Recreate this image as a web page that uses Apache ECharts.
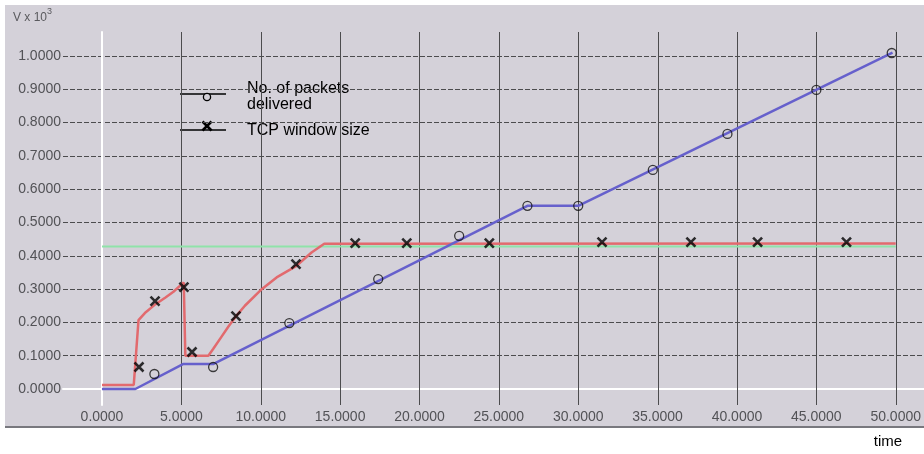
<!DOCTYPE html>
<html><head><meta charset="utf-8">
<script src="https://cdn.jsdelivr.net/npm/echarts@6/dist/echarts.min.js"></script>
<style>html,body{margin:0;padding:0;background:#fff}#c{width:924px;height:454px}</style>
</head><body><div id="c"></div>
<script>
// ---- data ----
const xMin = 0, xMax = 50, xStep = 5;
const yMin = 0, yMax = 1, yStep = 0.1;
const packetsLine = [[0, 0], [2.1, 0], [5.1, 0.075], [7.0, 0.075], [26.8, 0.55], [30.0, 0.55], [49.8, 1.01]];
const windowLine = [[0, 0.012], [2.0, 0.012], [2.3, 0.207], [2.7, 0.228], [3.3, 0.252], [4.0, 0.275], [4.5, 0.292], [5.15, 0.32],
  [5.25, 0.1], [6.7, 0.1], [7.0, 0.12], [7.5, 0.155], [8.0, 0.19], [8.5, 0.222], [9.0, 0.25], [10.0, 0.297], [11.0, 0.335],
  [12.2, 0.368], [13.2, 0.41], [14.0, 0.436], [50, 0.437]];
const thresholdLine = [[0, 0.428], [50, 0.428]];
const packetsMarks = [[3.3, 0.045], [7.0, 0.066], [11.8, 0.198], [17.4, 0.33], [22.5, 0.46], [26.8, 0.55], [30.0, 0.55],
  [34.7, 0.658], [39.4, 0.766], [45.0, 0.898], [49.75, 1.009]];
const windowMarks = [[2.33, 0.066], [3.34, 0.264], [5.16, 0.306], [5.67, 0.111], [8.44, 0.219], [12.22, 0.375], [15.95, 0.438],
  [19.2, 0.438], [24.4, 0.438], [31.5, 0.441], [37.1, 0.441], [41.3, 0.441], [46.9, 0.441]];
const legendNames = ['No. of packets', 'delivered', 'TCP window size'];
const axisTitles = ['V x 10', '3', 'time'];

// ---- styles ----
const BG = '#d4d1d9';
const DARK = '#4c4c4e';
const LBL = '#525256';
const FONT = '"Liberation Sans", Arial, sans-serif';
const XPATH = 'path://M0,0L10,10M10,0L0,10';
const off = {show: false};

const chart = echarts.init(document.getElementById('c'), null, {renderer: 'canvas'});

const option = {
  backgroundColor: '#ffffff',
  animation: false,
  grid: [
    {left: 102, top: 56, width: 794, height: 333},   // data
    {left: 102, top: 32, width: 794, height: 373},   // vertical grid lines
    {left: 63, top: 56, width: 861, height: 333}     // horizontal grid lines
  ],
  xAxis: [
    {type: 'value', gridIndex: 0, min: xMin, max: xMax, interval: xStep, axisLine: off, axisTick: off, splitLine: off,
      axisLabel: {show: true, margin: 21, color: LBL, fontSize: 14, fontFamily: FONT, formatter: v => v.toFixed(4)}},
    {type: 'value', gridIndex: 1, min: xMin, max: xMax, interval: xStep, axisLine: off, axisTick: off, axisLabel: off, z: 1,
      splitLine: {show: true, showMinLine: false, lineStyle: {color: DARK, width: 1, type: 'solid'}}},
    {type: 'value', gridIndex: 2, min: 0, max: 1, axisTick: off, axisLabel: off, splitLine: off, z: 0,
      axisLine: {show: true, onZero: false, lineStyle: {color: '#ffffff', width: 2}}}
  ],
  yAxis: [
    {type: 'value', gridIndex: 0, min: yMin, max: yMax, interval: yStep, axisLine: off, axisTick: off, splitLine: off,
      axisLabel: {show: true, margin: 41, color: LBL, fontSize: 14, fontFamily: FONT, formatter: v => v.toFixed(4)}},
    {type: 'value', gridIndex: 1, min: 0, max: 1, axisTick: off, axisLabel: off, splitLine: off, z: 2,
      axisLine: {show: true, onZero: false, lineStyle: {color: '#ffffff', width: 2}}},
    {type: 'value', gridIndex: 2, min: yMin, max: yMax, interval: yStep, axisLine: off, axisTick: off, axisLabel: off, z: 0,
      splitLine: {show: true, showMinLine: false, lineStyle: {color: DARK, width: 1, type: [5, 2]}}}
  ],
  series: [
    {type: 'line', data: thresholdLine, showSymbol: false, symbol: 'none', clip: false,
      lineStyle: {color: '#8fe3a9', width: 2}, z: 3},
    {type: 'line', data: windowLine, showSymbol: false, symbol: 'none', clip: false,
      lineStyle: {color: '#e26a6e', width: 2.5}, z: 4},
    {type: 'line', data: packetsLine, showSymbol: false, symbol: 'none', clip: false,
      lineStyle: {color: '#6660cc', width: 2.5}, z: 5},
    {type: 'scatter', data: packetsMarks, symbol: 'circle', symbolSize: 9, clip: false,
      itemStyle: {color: 'rgba(0,0,0,0)', borderColor: '#111', borderWidth: 1.3}, z: 6},
    {type: 'scatter', data: windowMarks, symbol: XPATH, symbolSize: 9, clip: false,
      itemStyle: {color: 'rgba(0,0,0,0)', borderColor: '#000', borderWidth: 2.6}, z: 7}
  ],
  graphic: [
    {type: 'rect', z: -100, silent: true, shape: {x: 5, y: 5, width: 919, height: 421}, style: {fill: BG}},
    {type: 'rect', z: -99, silent: true, shape: {x: 5, y: 426, width: 919, height: 2}, style: {fill: '#78787e'}},
    {type: 'text', x: 13, y: 18, style: {text: axisTitles[0], font: '12px ' + FONT, fill: '#5a5a5e', textVerticalAlign: 'middle'}},
    {type: 'text', x: 47, y: 12, style: {text: axisTitles[1], font: '9px ' + FONT, fill: '#5a5a5e', textVerticalAlign: 'middle'}},
    {type: 'text', x: 888, y: 442, style: {text: axisTitles[2], font: '15px ' + FONT, fill: '#000', textAlign: 'center', textVerticalAlign: 'middle'}},
    // legend
    {type: 'line', shape: {x1: 180, y1: 94, x2: 226, y2: 94}, style: {stroke: '#000', lineWidth: 1.5}},
    {type: 'circle', shape: {cx: 207, cy: 97, r: 3.6}, style: {fill: BG, stroke: '#000', lineWidth: 1.3}},
    {type: 'text', x: 247, y: 89, style: {text: legendNames[0], font: '16px ' + FONT, fill: '#000', textVerticalAlign: 'middle'}},
    {type: 'text', x: 247, y: 105, style: {text: legendNames[1], font: '16px ' + FONT, fill: '#000', textVerticalAlign: 'middle'}},
    {type: 'line', shape: {x1: 180, y1: 130, x2: 226, y2: 130}, style: {stroke: '#000', lineWidth: 1.5}},
    {type: 'polyline', shape: {points: [[202.5, 121.5], [211.5, 130.5]]}, style: {stroke: '#000', lineWidth: 2.6}},
    {type: 'polyline', shape: {points: [[211.5, 121.5], [202.5, 130.5]]}, style: {stroke: '#000', lineWidth: 2.6}},
    {type: 'text', x: 247, y: 131, style: {text: legendNames[2], font: '16px ' + FONT, fill: '#000', textVerticalAlign: 'middle'}}
  ]
};
chart.setOption(option);
</script>
</body></html>
